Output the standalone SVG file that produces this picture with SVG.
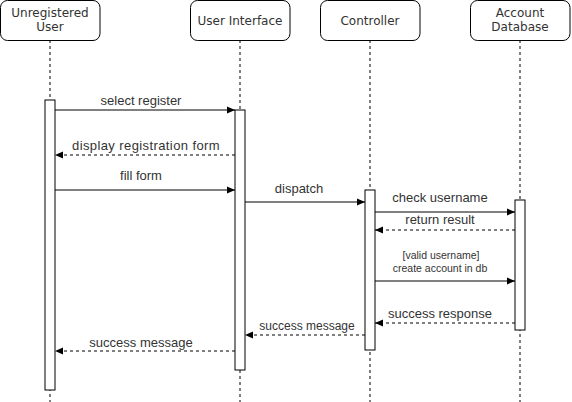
<svg xmlns="http://www.w3.org/2000/svg" width="572" height="402" viewBox="0 0 572 402">
<style>
.hdr{fill:#fff;stroke:#000;stroke-width:1}
.ht{font-family:"DejaVu Sans",Verdana,sans-serif;font-size:12px;fill:#333;text-anchor:middle}
.life{stroke:#000;stroke-width:1;stroke-dasharray:3,3;fill:none}
.act{fill:#fff;stroke:#000;stroke-width:1}
.msg{stroke:#000;stroke-width:1;fill:none;marker-end:url(#ah)}
.ret{stroke:#000;stroke-width:1;fill:none;stroke-dasharray:3,3;marker-end:url(#ah)}
.lt{font-family:"Liberation Sans",Arial,sans-serif;font-size:13px;fill:#333;text-anchor:middle}
.st{font-family:"Liberation Sans",Arial,sans-serif;font-size:10.5px;fill:#333;text-anchor:middle}
</style>
<defs>
<marker id="ah" markerWidth="10" markerHeight="8" refX="9" refY="4" orient="auto" markerUnits="userSpaceOnUse">
<path d="M1,0.5 L9,4 L1,7.5 Z" fill="#000"/>
</marker>
</defs>
<g id="lifelines">
<line class="life" x1="50" y1="40" x2="50" y2="402"/>
<line class="life" x1="240" y1="40" x2="240" y2="402"/>
<line class="life" x1="370" y1="40" x2="370" y2="402"/>
<line class="life" x1="520" y1="40" x2="520" y2="402"/>
</g>
<g id="user">
<rect class="hdr" x="0.5" y="0.5" width="99.5" height="40" rx="7"/>
<text class="ht" x="50" y="17">Unregistered</text>
<text class="ht" x="50" y="31">User</text>
<rect class="act" x="45" y="100" width="10" height="290"/>
</g>
<g id="ui">
<rect class="hdr" x="190.5" y="0.5" width="99.5" height="40" rx="7"/>
<text class="ht" x="240" y="25">User Interface</text>
<rect class="act" x="235" y="110" width="10" height="260"/>
</g>
<g id="controller">
<rect class="hdr" x="320.5" y="0.5" width="99.5" height="40" rx="7"/>
<text class="ht" x="370" y="25">Controller</text>
<rect class="act" x="365" y="190" width="10" height="160"/>
</g>
<g id="db">
<rect class="hdr" x="470.5" y="0.5" width="99.5" height="40" rx="7"/>
<text class="ht" x="520" y="17">Account</text>
<text class="ht" x="520" y="31">Database</text>
<rect class="act" x="515" y="200" width="10" height="130"/>
</g>
<g id="connectors">
<line class="msg" x1="55" y1="110" x2="235" y2="110"/>
<line class="ret" x1="235" y1="155" x2="55" y2="155"/>
<line class="msg" x1="55" y1="190" x2="235" y2="190"/>
<line class="msg" x1="245" y1="202" x2="365" y2="202"/>
<line class="msg" x1="375" y1="212" x2="515" y2="212"/>
<line class="ret" x1="515" y1="230" x2="375" y2="230"/>
<line class="msg" x1="375" y1="281" x2="515" y2="281"/>
<line class="ret" x1="515" y1="323" x2="375" y2="323"/>
<line class="ret" x1="365" y1="335" x2="245" y2="335"/>
<line class="ret" x1="235" y1="351" x2="55" y2="351"/>
</g>
<g id="labels">
<text class="lt" x="141" y="105">select register</text>
<text class="lt" x="146" y="150" style="letter-spacing:0.4px">display registration form</text>
<text class="lt" x="141" y="180">fill form</text>
<text class="lt" x="299" y="193">dispatch</text>
<text class="lt" x="440" y="202">check username</text>
<text class="lt" x="440" y="224">return result</text>
<text class="st" x="441" y="259">[valid username]</text>
<text class="st" x="440" y="272">create account in db</text>
<text class="lt" x="440" y="318">success response</text>
<text class="lt" x="307" y="330" style="font-size:12px">success message</text>
<text class="lt" x="141" y="347">success message</text>
</g>
</svg>
